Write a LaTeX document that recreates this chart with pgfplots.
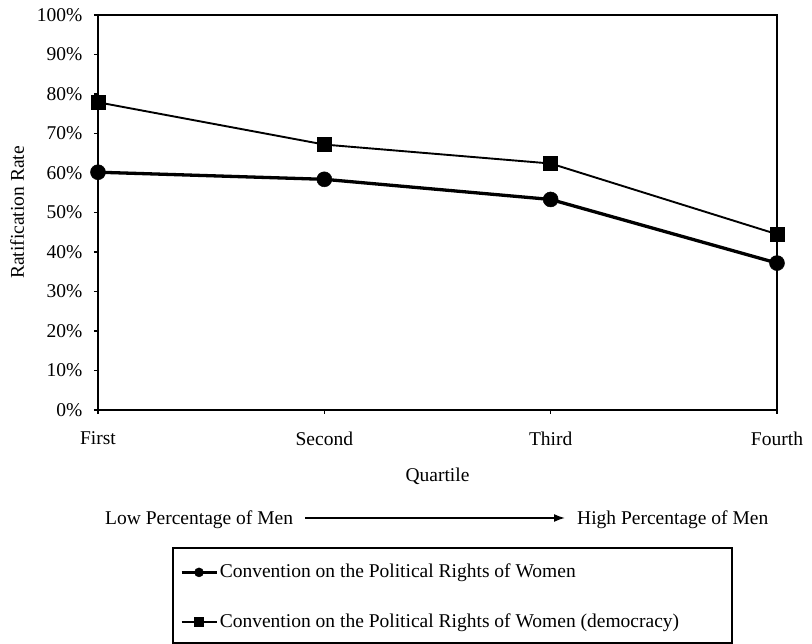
\documentclass[border=0pt]{standalone}
\usepackage{pgfplots}
\pgfplotsset{compat=1.18}
\usetikzlibrary{arrows.meta}
\usepackage{fontspec}
\setmainfont{Liberation Serif}
\newcommand{\myfont}{\fontsize{19.5}{22}\selectfont}
\begin{document}
\myfont
\begin{tikzpicture}[x=1pt,y=1pt]
\path[use as bounding box] (-98,-234) rectangle (714,410);
\begin{axis}[
  at={(0,0)}, anchor=south west,
  scale only axis, width=679pt, height=395pt,
  xmin=0, xmax=3, ymin=0, ymax=100,
  xtick={0,1,2,3}, xticklabels={First,Second,Third,Fourth},
  ytick={0,10,20,30,40,50,60,70,80,90,100},
  yticklabels={0\%,10\%,20\%,30\%,40\%,50\%,60\%,70\%,80\%,90\%,100\%},
  tick align=outside, xtick pos=bottom, ytick pos=left,
  major tick length=4pt,
  axis line style={line width=1.6pt},
  every tick/.style={black, line width=1.3pt},
  tick label style={font=\myfont},
  xticklabel style={yshift=-11pt},
  yticklabel style={xshift=-5pt},
  label style={font=\myfont},
  xlabel={Quartile}, ylabel={Ratification Rate},
  every axis x label/.style={at={(axis description cs:0.5,-0.167)}, anchor=center},
  every axis y label/.style={at={(axis description cs:-0.1193,0.5)}, rotate=90, anchor=center},
  legend style={draw=none, fill=none, font=\myfont,
    at={(axis description cs:0.1208,-0.474)}, anchor=west,
    inner sep=0pt, row sep=29pt, nodes={inner sep=2pt}},
  legend cell align=left,
  legend image code/.code={\draw[mark repeat=2, mark phase=2, #1, mark size=4.5pt, line width=2.6pt]
      plot coordinates {(0pt,0pt)(17.5pt,0pt)(35pt,0pt)};},
]
\addplot[black, line width=3.3pt, mark=*, mark size=7.5pt, mark options={line width=0.5pt}]
  coordinates {(0,60.2) (1,58.4) (2,53.3) (3,37.2)};
\addlegendentry{Convention on the Political Rights of Women}
\addplot[black, line width=1.9pt, mark=square*, mark size=7pt, mark options={line width=0.5pt}]
  coordinates {(0,77.9) (1,67.2) (2,62.4) (3,44.5)};
\addlegendentry{Convention on the Political Rights of Women (democracy)}
\end{axis}
\node[anchor=base west, inner sep=0pt] at (7,-115) {Low Percentage of Men};
\draw[-{Latex[length=11pt,width=8pt]}, line width=1.6pt] (207,-108) -- (467,-108);
\node[anchor=base west, inner sep=0pt] at (479,-115) {High Percentage of Men};
\draw[line width=1.4pt] (75,-138) rectangle (634,-233);
\end{tikzpicture}
\end{document}
